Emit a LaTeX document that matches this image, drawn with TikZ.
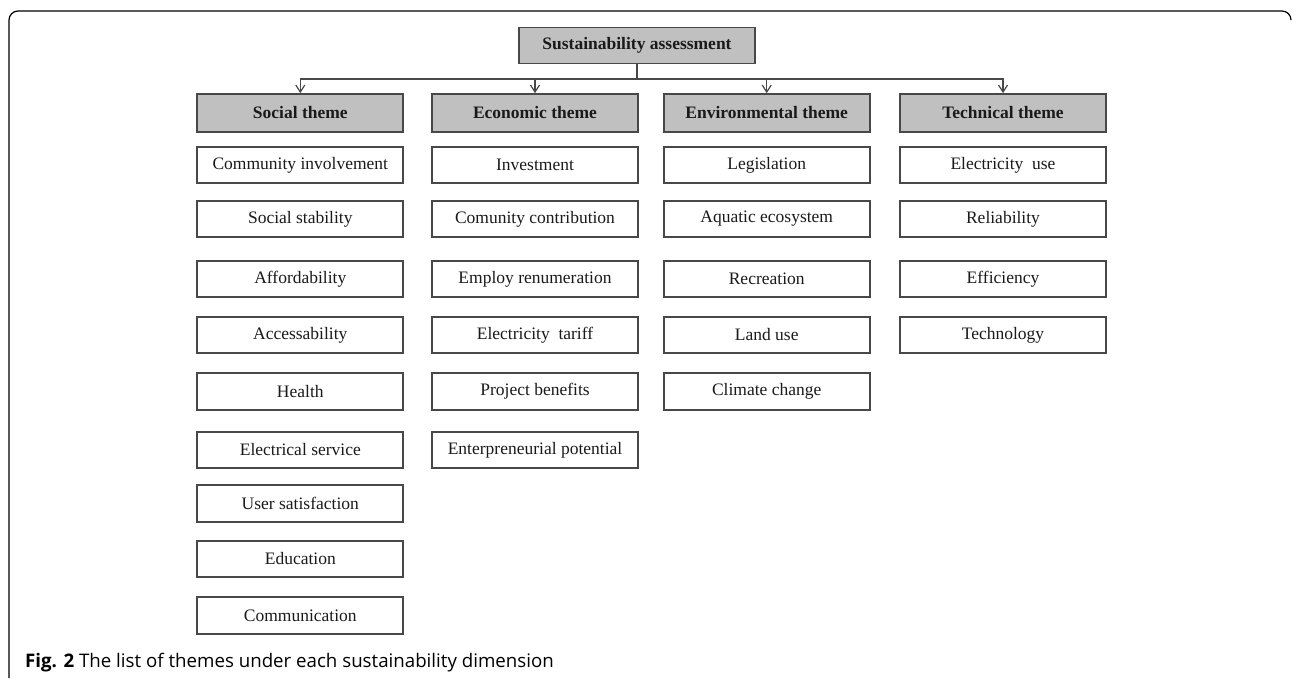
\documentclass[tikz,border=0pt]{standalone}
\usepackage{fontspec}
\setmainfont{Liberation Serif}
\newfontfamily\capfont{Open Sans}
\usetikzlibrary{arrows.meta}
\definecolor{boxline}{HTML}{484848}
\definecolor{headfill}{HTML}{C0C0C0}
\definecolor{txt}{HTML}{1A1A1A}
\tikzset{
  itembox/.style={draw=boxline, line width=1.7pt, fill=white, minimum width=206pt, minimum height=36.6pt, inner sep=0pt, text=txt, font=\fontsize{17.5}{20}\selectfont},
  headbox/.style={itembox, fill=headfill, minimum height=38pt, font=\fontsize{17.5}{20}\selectfont\bfseries},
  rootbox/.style={headbox, minimum width=236pt, minimum height=36pt},
  conn/.style={draw=boxline, line width=1.4pt},
  arr/.style={conn, -{Straight Barb[length=7pt,width=9pt,line width=1.2pt]}},
  frame/.style={draw=black, line width=1.2pt}
}
\begin{document}
\begin{tikzpicture}[x=1pt,y=-1pt]
\useasboundingbox (0,0) rectangle (1292,678);
% frame
\coordinate (fbl) at (9,678);
\coordinate (ftr) at (1291,20);
\draw[frame, rounded corners=9pt] (fbl) |- (1291,11) -- (ftr);
% root
\node[rootbox] (root) at (637,45.5) {Sustainability assessment};
\coordinate (hub) at (637,79);
% themes
\node[headbox] (soc) at (300.3,113) {Social theme};
\node[headbox] (eco) at (535,113) {Economic theme};
\node[headbox] (env) at (766.7,113) {Environmental theme};
\node[headbox] (tec) at (1003,113) {Technical theme};
\draw[conn] (root) -- (hub);
\draw[arr] (hub) -| (soc.north);
\draw[arr] (hub) -| (eco.north);
\draw[arr] (hub) -| (env.north);
\draw[arr] (hub) -| (tec.north);
% social
\node[itembox] (s1) at (300.3,165) {Community involvement};
\node[itembox] (s2) at (300.3,219) {Social stability};
\node[itembox] (s3) at (300.3,279) {Affordability};
\node[itembox] (s4) at (300.3,335) {Accessability};
\node[itembox] (s5) at (300.3,391.5) {Health};
\node[itembox] (s6) at (300.3,450) {Electrical service};
\node[itembox] (s7) at (300.3,503.5) {User satisfaction};
\node[itembox] (s8) at (300.3,559) {Education};
\node[itembox] (s9) at (300.3,615.5) {Communication};
% economic
\node[itembox] (e1) at (535,165) {Investment};
\node[itembox] (e2) at (535,219) {Comunity contribution};
\node[itembox] (e3) at (535,279) {Employ renumeration};
\node[itembox] (e4) at (535,335) {Electricity\ \ tariff};
\node[itembox] (e5) at (535,391.5) {Project benefits};
\node[itembox] (e6) at (535,450) {Enterpreneurial potential};
% environmental
\node[itembox] (v1) at (766.7,165) {Legislation};
\node[itembox] (v2) at (766.7,219) {Aquatic ecosystem};
\node[itembox] (v3) at (766.7,279) {Recreation};
\node[itembox] (v4) at (766.7,335) {Land use};
\node[itembox] (v5) at (766.7,391.5) {Climate change};
% technical
\node[itembox] (t1) at (1003,165) {Electricity\ \ use};
\node[itembox] (t2) at (1003,219) {Reliability};
\node[itembox] (t3) at (1003,279) {Efficiency};
\node[itembox] (t4) at (1003,335) {Technology};
% caption
\node[anchor=base west, inner sep=0pt, font=\capfont\fontsize{18.7}{22}\selectfont] (cap) at (25,667) {\textbf{Fig. 2} The list of themes under each sustainability dimension};
\end{tikzpicture}
\end{document}
